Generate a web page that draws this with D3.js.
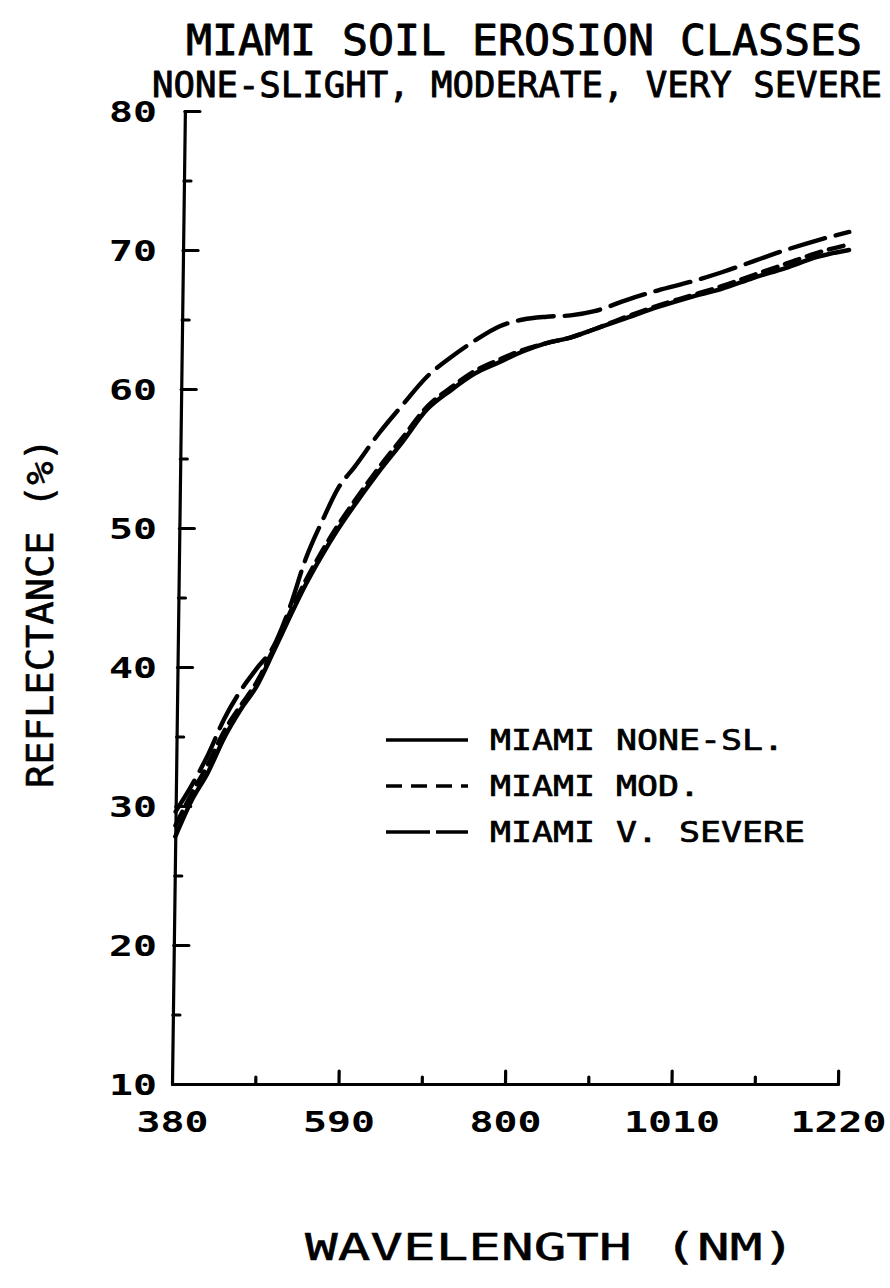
<!DOCTYPE html>
<html>
<head>
<meta charset="utf-8">
<script src="https://cdn.jsdelivr.net/npm/d3@7/dist/d3.min.js"></script>
<style>
  html, body { margin: 0; padding: 0; background: #fff; }
  svg { display: block; }
  text { font-family: "DejaVu Sans Mono", "Liberation Mono", monospace; fill: #000; }
</style>
</head>
<body>
<svg id="chart" width="890" height="1288"></svg>
<script>
// Wavelength grid (nm) and reflectance (%) for the three erosion classes
const wavelengths = [380, 400, 420, 440, 460, 480, 500, 520, 540, 560, 580, 600, 630, 660, 690,
                     720, 750, 780, 810, 840, 870, 900, 940, 980, 1020, 1060, 1100, 1140, 1180, 1220];
const noneSlight = [27.8, 30.4, 32.4, 34.9, 36.9, 38.6, 41.0, 43.5, 45.9, 48.0, 49.9, 51.6, 54.0, 56.2, 58.5,
                    59.9, 61.1, 61.9, 62.7, 63.3, 63.7, 64.3, 65.1, 65.9, 66.6, 67.2, 68.0, 68.7, 69.5, 70.0];
const moderate = [28.6, 30.9, 33.0, 35.4, 37.2, 38.9, 41.2, 43.8, 46.2, 48.3, 50.2, 51.9, 54.3, 56.5, 58.7,
                  60.1, 61.3, 62.1, 62.8, 63.3, 63.7, 64.3, 65.2, 66.0, 66.7, 67.4, 68.2, 69.0, 69.8, 70.4];
const verySevere = [29.6, 31.5, 33.7, 36.3, 38.3, 39.9, 41.4, 44.2, 47.8, 50.5, 52.9, 54.4, 56.8, 58.9, 60.9,
                    62.3, 63.5, 64.5, 65.0, 65.2, 65.3, 65.6, 66.4, 67.1, 67.7, 68.4, 69.2, 70.0, 70.7, 71.3];

const seriesNames = ["MIAMI NONE-SL.", "MIAMI MOD.", "MIAMI V. SEVERE"];
const yTicks = [10, 20, 30, 40, 50, 60, 70, 80];
const yMinorTicks = [15, 25, 35, 45, 55, 65, 75];
const xTicks = [380, 590, 800, 1010, 1220];
const xMinorTicks = [485, 695, 905, 1115];

const titleText = "MIAMI SOIL EROSION CLASSES";
const subtitleText = "NONE-SLIGHT, MODERATE, VERY SEVERE";
const xLabel = "WAVELENGTH (NM)";
const yLabel = "REFLECTANCE (%)";

const svg = d3.select("#chart");
const x0 = 172, x1 = 838, yBottom = 1084, yTop = 111;

const x = d3.scaleLinear().domain([380, 1220]).range([x0, x1]);
const y = d3.scaleLinear().domain([10, 80]).range([yBottom, yTop]);

const ink = "#000";
const dashes = [null, "15,8", "36,11"];

// Plot frame is slightly sheared, as drawn by the pen plotter
const plot = svg.append("g")
  .attr("transform", `translate(0,${yBottom}) skewX(-0.76) translate(0,${-yBottom})`);

function styleAxis(sel, w) {
  sel.selectAll("path.domain").attr("stroke", ink).attr("stroke-width", w).attr("stroke-linecap", "round");
  sel.selectAll(".tick line").attr("stroke", ink).attr("stroke-width", w).attr("stroke-linecap", "round");
  sel.selectAll(".tick text").remove();
}

// Left axis: spine and inward ticks
plot.append("g").attr("transform", `translate(${x0},0)`)
  .call(d3.axisRight(y).tickValues(yTicks.filter(v => v > 10)).tickSize(15).tickSizeOuter(0).tickFormat(""))
  .call(s => styleAxis(s, 3.2));
plot.append("g").attr("transform", `translate(${x0},0)`)
  .call(d3.axisRight(y).tickValues(yMinorTicks).tickSize(7).tickFormat(""))
  .call(s => s.select("path.domain").remove())
  .call(s => styleAxis(s, 3.2));

// Bottom axis: spine and inward ticks
plot.append("g").attr("transform", `translate(0,${yBottom})`)
  .call(d3.axisTop(x).tickValues(xTicks.filter(v => v > 380)).tickSize(13).tickSizeOuter(0).tickFormat(""))
  .call(s => styleAxis(s, 3.2));
plot.append("g").attr("transform", `translate(0,${yBottom})`)
  .call(d3.axisTop(x).tickValues(xMinorTicks).tickSize(7).tickFormat(""))
  .call(s => s.select("path.domain").remove())
  .call(s => styleAxis(s, 3.2));

// Reflectance curves
const line = d3.line()
  .x(d => x(d[0]))
  .y(d => y(d[1]))
  .curve(d3.curveMonotoneX);

[noneSlight, moderate, verySevere].forEach((vals, i) => {
  plot.append("path")
    .datum(wavelengths.map((w, j) => [w, vals[j]]))
    .attr("d", line)
    .attr("fill", "none")
    .attr("stroke", ink)
    .attr("stroke-width", 4.4)
    .attr("stroke-linecap", "round")
    .attr("stroke-linejoin", "round")
    .attr("stroke-dasharray", dashes[i]);
});

// Heavier pen look for lettering
function pen(sel, w) {
  return sel.attr("stroke", ink).attr("stroke-width", w).attr("stroke-linejoin", "round");
}

// Tick labels
const yLab = svg.append("g").attr("transform", "translate(157,0)")
  .call(d3.axisLeft(y).tickValues(yTicks).tickSize(0).tickPadding(0).tickFormat(d3.format("d")))
  .call(s => s.select("path.domain").remove());
yLab.selectAll("text")
  .attr("font-size", 29).attr("font-weight", "bold")
  .attr("dy", "0.36em")
  .attr("textLength", d => String(d).length * 24)
  .attr("lengthAdjust", "spacingAndGlyphs");

const xLab = svg.append("g").attr("transform", "translate(0,1122)")
  .call(d3.axisBottom(x).tickValues(xTicks).tickSize(0).tickPadding(0).tickFormat(d3.format("d")))
  .call(s => s.select("path.domain").remove());
xLab.selectAll("text")
  .attr("y", 0)
  .attr("font-size", 29).attr("font-weight", "bold")
  .attr("dy", "0.36em")
  .attr("textLength", d => String(d).length * 24)
  .attr("lengthAdjust", "spacingAndGlyphs");

// Titles
svg.append("text")
  .attr("x", 524).attr("y", 55)
  .attr("text-anchor", "middle")
  .attr("font-size", 43)
  .attr("textLength", 676).attr("lengthAdjust", "spacingAndGlyphs")
  .call(pen, 0.9)
  .text(titleText);

svg.append("text")
  .attr("x", 152).attr("y", 97)
  .attr("font-size", 35.5)
  .attr("textLength", 730).attr("lengthAdjust", "spacingAndGlyphs")
  .call(pen, 0.9)
  .text(subtitleText);

svg.append("text")
  .attr("x", 550).attr("y", 1260)
  .attr("text-anchor", "middle")
  .attr("font-size", 37)
  .attr("textLength", 490).attr("lengthAdjust", "spacingAndGlyphs")
  .call(pen, 0.5)
  .text(xLabel);

svg.append("text")
  .attr("transform", "translate(53,613) rotate(-90)")
  .attr("text-anchor", "middle")
  .attr("font-size", 37)
  .attr("textLength", 350).attr("lengthAdjust", "spacingAndGlyphs")
  .call(pen, 0.6)
  .text(yLabel);

// Legend
const legendRows = [750, 796, 842];
const legend = svg.append("g");
seriesNames.forEach((name, i) => {
  const ly = legendRows[i] - 10;
  legend.append("line")
    .attr("x1", 386).attr("x2", 468)
    .attr("y1", ly).attr("y2", ly)
    .attr("stroke", ink).attr("stroke-width", 3.6)
    .attr("stroke-dasharray", i === 0 ? null : (i === 1 ? "16,9" : "44,6"));
  legend.append("text")
    .attr("x", 490).attr("y", legendRows[i])
    .attr("font-size", 28)
    .attr("textLength", name.length * 21).attr("lengthAdjust", "spacingAndGlyphs")
    .call(pen, 0.7)
    .text(name);
});
</script>
</body>
</html>
